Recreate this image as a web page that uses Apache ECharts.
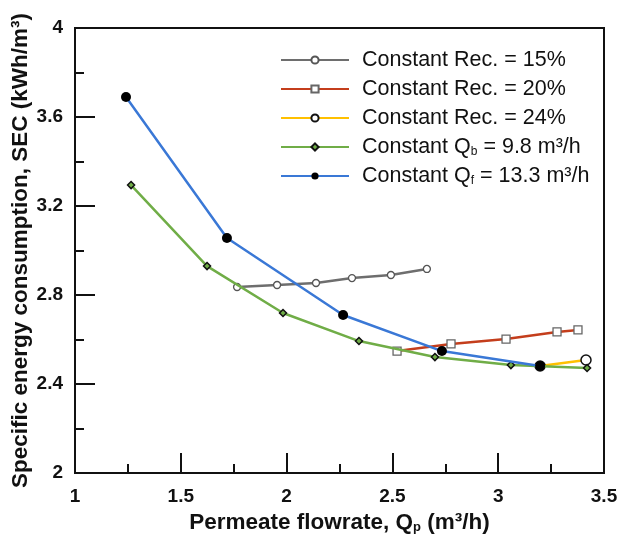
<!DOCTYPE html>
<html>
<head>
<meta charset="utf-8">
<script src="https://cdn.jsdelivr.net/npm/echarts@6/dist/echarts.min.js"></script>
<style>
html,body{margin:0;padding:0;background:#fff;}
#chart{width:619px;height:534px;}
</style>
</head>
<body>
<div id="chart"></div>
<script>
// ---- data ----
const rec15X = [1.766, 1.955, 2.139, 2.309, 2.493, 2.663];
const rec15Y = [2.836, 2.845, 2.854, 2.876, 2.890, 2.917];
const rec20X = [2.522, 2.777, 3.037, 3.278, 3.377];
const rec20Y = [2.548, 2.580, 2.602, 2.634, 2.643];
const rec24X = [3.198, 3.415];
const rec24Y = [2.481, 2.508];
const qbX = [1.265, 1.624, 1.983, 2.342, 2.701, 3.060, 3.420];
const qbY = [3.294, 2.930, 2.719, 2.593, 2.521, 2.485, 2.472];
const qfX = [1.241, 1.718, 2.267, 2.734, 3.198];
const qfY = [3.690, 3.056, 2.710, 2.548, 2.481];
const seriesNames = [
  'Constant Rec. = 15%',
  'Constant Rec. = 20%',
  'Constant Rec. = 24%',
  'Constant Qb = 9.8 m³/h',
  'Constant Qf = 13.3 m³/h'
];
const xTicks = {min: 1, max: 3.5, interval: 0.5};
const yTicks = {min: 2, max: 4, interval: 0.4};

const zip = (xs, ys) => xs.map((x, i) => [x, ys[i]]);
const FONT = 'Liberation Sans, Arial, sans-serif';

const chart = echarts.init(document.getElementById('chart'));

const legendFormatter = function (name) {
  if (name === seriesNames[3]) return '{a|Constant Q}{s|b}{a| = 9.8 m³/h}';
  if (name === seriesNames[4]) return '{a|Constant Q}{s|f}{a| = 13.3 m³/h}';
  return '{a|' + name + '}';
};

const option = {
  animation: false,
  backgroundColor: '#fff',
  grid: {
    left: 75, top: 28, right: 15, bottom: 61,
    containLabel: false,
    outerBoundsMode: 'none',
    show: true, borderColor: '#111', borderWidth: 2
  },
  legend: {
    orient: 'vertical',
    left: 275, top: 44,
    itemWidth: 68, itemHeight: 9,
    itemGap: 7,
    formatter: legendFormatter,
    textStyle: {
      fontFamily: FONT, color: '#111',
      padding: [0, 0, 0, 8],
      rich: {
        a: {fontFamily: FONT, fontSize: 21.5, color: '#111', lineHeight: 22},
        s: {fontFamily: FONT, fontSize: 12, color: '#111', lineHeight: 22, verticalAlign: 'bottom', padding: [10, 0, 0, 0]}
      }
    },
    data: seriesNames
  },
  xAxis: {
    type: 'value',
    min: xTicks.min, max: xTicks.max, interval: xTicks.interval,
    name: '{b|Permeate flowrate, Q}{s|p}{b| (m³/h)}',
    nameLocation: 'middle', nameGap: 28,
    nameTextStyle: {
      rich: {
        b: {fontFamily: FONT, fontSize: 22.5, fontWeight: 'bold', color: '#111', lineHeight: 24},
        s: {fontFamily: FONT, fontSize: 13, fontWeight: 'bold', color: '#111', lineHeight: 24, verticalAlign: 'bottom', padding: [10, 0, 0, 0]}
      }
    },
    axisLine: {show: true, lineStyle: {color: '#111', width: 2}},
    axisTick: {show: true, inside: true, length: 20, lineStyle: {color: '#111', width: 2}},
    minorTick: {show: true, splitNumber: 2, length: 9, lineStyle: {color: '#111', width: 2}},
    splitLine: {show: false},
    axisLabel: {
      fontFamily: FONT, fontSize: 19, fontWeight: 'bold', color: '#111', margin: 14,
      formatter: v => String(v)
    }
  },
  yAxis: {
    type: 'value',
    min: yTicks.min, max: yTicks.max, interval: yTicks.interval,
    name: 'Specific energy consumption, SEC (kWh/m³)',
    nameLocation: 'middle', nameGap: 43,
    nameMoveOverlap: false,
    nameTextStyle: {fontFamily: FONT, fontSize: 22.5, fontWeight: 'bold', color: '#111'},
    axisLine: {show: true, lineStyle: {color: '#111', width: 2}},
    axisTick: {show: true, inside: true, length: 20, lineStyle: {color: '#111', width: 2}},
    minorTick: {show: true, splitNumber: 2, length: 9, lineStyle: {color: '#111', width: 2}},
    splitLine: {show: false},
    axisLabel: {
      fontFamily: FONT, fontSize: 19, fontWeight: 'bold', color: '#111', margin: 12,
      formatter: v => String(Math.round(v * 10) / 10)
    }
  },
  series: [
    {
      name: seriesNames[0], type: 'line', data: zip(rec15X, rec15Y),
      symbol: 'circle', symbolSize: 7,
      lineStyle: {color: '#6e6e6e', width: 2.5},
      itemStyle: {color: '#ffffff', borderColor: '#555', borderWidth: 1.3},
      z: 2
    },
    {
      name: seriesNames[1], type: 'line', data: zip(rec20X, rec20Y),
      symbol: 'rect', symbolSize: 8,
      lineStyle: {color: '#c43e1c', width: 2.5},
      itemStyle: {color: '#ffffff', borderColor: '#666', borderWidth: 1.3},
      z: 3
    },
    {
      name: seriesNames[2], type: 'line', data: zip(rec24X, rec24Y),
      symbol: 'circle', symbolSize: 10,
      lineStyle: {color: '#ffc000', width: 2.5},
      itemStyle: {color: '#ffffff', borderColor: '#111', borderWidth: 1.5},
      z: 4
    },
    {
      name: seriesNames[3], type: 'line', data: zip(qbX, qbY),
      symbol: 'diamond', symbolSize: 7,
      lineStyle: {color: '#70ad47', width: 2.5},
      itemStyle: {color: '#70ad47', borderColor: '#111', borderWidth: 1.5},
      z: 5
    },
    {
      name: seriesNames[4], type: 'line', data: zip(qfX, qfY),
      symbol: 'circle', symbolSize: 10,
      lineStyle: {color: '#3a78d6', width: 2.5},
      itemStyle: {color: '#000000', borderColor: '#000', borderWidth: 0},
      z: 6
    }
  ]
};
chart.setOption(option);
</script>
</body>
</html>
